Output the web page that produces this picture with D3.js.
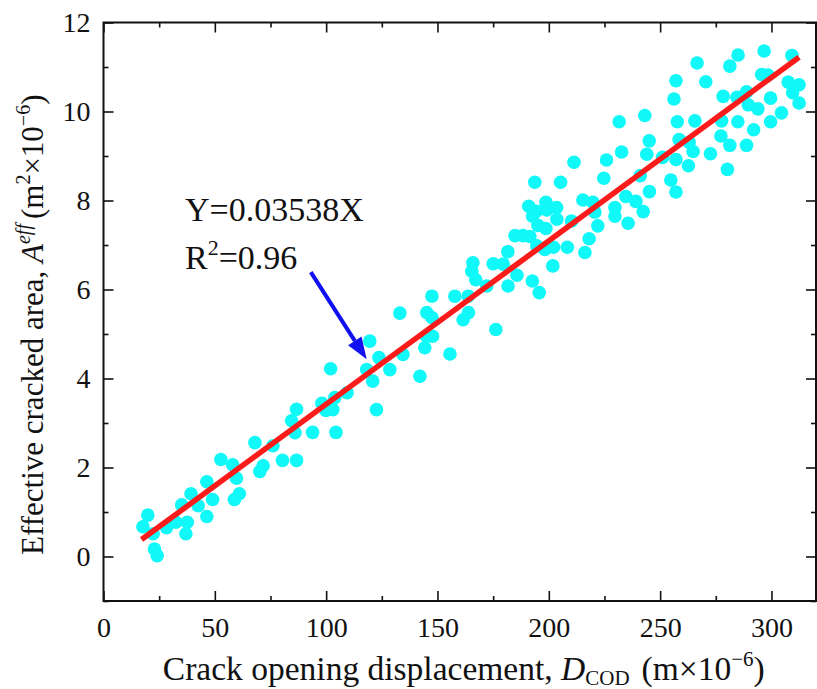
<!DOCTYPE html>
<html lang="en">
<head>
<meta charset="UTF-8">
<title>Effective cracked area vs crack opening displacement</title>
<script src="https://d3js.org/d3.v7.min.js"></script>
<style>
  body { margin: 0; background: #fff; }
  svg { display: block; font-family: "Liberation Serif", "Times New Roman", serif; }
</style>
</head>
<body>
<svg width="817" height="689"></svg>
<script>
// crack opening displacement D_COD (m x 1e-6)
const codX = [
  17.7, 19.9, 22.3, 22.9, 24.1, 28.3, 32.5, 35.1, 37.6, 37.0,
  39.3, 42.5, 46.4, 49.0, 46.4, 52.7, 58.0, 59.7, 61.0, 58.8,
  68.0, 76.1, 71.7, 70.2, 80.4, 86.7, 84.5, 86.7, 86.0, 93.9,
  98.1, 99.9, 103.0, 103.9, 104.4, 109.4, 102.0, 122.6, 119.6, 118.2,
  120.9, 123.7, 128.6, 134.5, 133.1, 142.1, 144.3, 145.0, 147.8, 145.2,
  147.5, 147.5, 155.6, 157.8, 161.5, 163.9, 163.8, 176.2, 172.1, 165.9,
  165.4, 167.2, 175.0, 179.5, 181.6, 181.7, 185.7, 192.6, 195.7, 201.8,
  184.8, 188.4, 191.5, 191.0, 192.7, 194.4, 195.1, 198.7, 199.1, 203.5,
  203.6, 198.7, 193.7, 205.3, 194.6, 198.2, 202.1, 208.3, 210.2, 218.1,
  216.2, 215.3, 219.8, 220.7, 222.0, 211.3, 225.9, 224.7, 232.7, 229.7,
  229.7, 234.6, 235.6, 239.1, 242.4, 241.1, 245.2, 244.0, 245.1, 251.1,
  257.1, 254.8, 257.1, 231.6, 243.1, 257.7, 258.5, 256.2, 257.1, 266.6,
  270.5, 265.6, 263.0, 264.8, 262.7, 272.6, 277.6, 277.3, 281.3, 280.2,
  278.3, 281.3, 285.0, 284.9, 288.8, 292.0, 284.5, 288.8, 289.6, 293.9,
  295.6, 298.4, 299.6, 299.6, 304.5, 296.7, 309.2, 307.5, 312.4, 309.5,
  312.4
];
// effective cracked area A_eff (m^2 x 1e-6)
const areaY = [
  0.67, 0.93, 0.51, 0.17, 0.02, 0.65, 0.77, 1.16, 0.77, 0.51,
  1.41, 1.14, 1.68, 1.28, 0.90, 2.18, 2.06, 1.76, 1.41, 1.28,
  2.56, 2.49, 2.04, 1.91, 2.16, 2.16, 3.05, 3.31, 2.78, 2.79,
  3.44, 3.28, 3.30, 3.57, 2.79, 3.68, 4.22, 3.30, 4.84, 4.20,
  3.94, 4.47, 4.20, 4.54, 5.47, 4.05, 4.69, 4.95, 4.95, 5.48,
  5.37, 5.85, 4.55, 5.85, 5.32, 5.48, 5.85, 5.10, 6.08, 6.60,
  6.41, 6.22, 6.58, 6.57, 6.85, 6.08, 6.32, 6.19, 5.93, 6.53,
  7.21, 7.21, 7.19, 7.87, 7.65, 7.76, 7.44, 7.96, 7.79, 7.84,
  7.58, 7.37, 8.41, 8.41, 6.98, 6.90, 6.95, 6.95, 7.54, 7.14,
  6.83, 8.01, 7.96, 7.74, 7.43, 8.86, 8.91, 8.50, 9.09, 7.84,
  7.65, 8.09, 7.49, 7.98, 7.75, 8.56, 8.20, 9.04, 9.34, 8.97,
  8.92, 8.46, 8.19, 9.77, 9.91, 9.77, 9.37, 10.28, 10.69, 11.09,
  10.67, 9.79, 9.31, 9.10, 8.78, 9.05, 9.79, 9.45, 9.24, 8.70,
  10.34, 11.02, 11.27, 9.77, 9.24, 9.59, 10.32, 10.44, 10.15, 10.06,
  10.83, 10.82, 10.30, 9.77, 9.97, 11.36, 11.26, 10.66, 10.60, 10.42,
  10.19
];

// fitted line as drawn, end points
const fitX = [17.1, 312.4];
const fitY = [0.38, 11.22];

const xTicks = [0, 50, 100, 150, 200, 250, 300];
const xMinor = [25, 75, 125, 175, 225, 275];
const yTicks = [0, 2, 4, 6, 8, 10, 12];
const yMinor = [-1, 1, 3, 5, 7, 9, 11];

// annotation text and arrow (data units)
const eqLines = ["Y=0.03538X", "R²=0.96"];
const eqPos = [36.6, 7.53];
const arrowFrom = [93.1, 6.39];
const arrowTo = [118.2, 4.43];

const width = 817, height = 689;
const margin = { left: 103.5, right: 1, top: 22.5, bottom: 88 };

const svg = d3.select("svg");

const x = d3.scaleLinear().domain([0, 320]).range([margin.left, width - margin.right]);
const y = d3.scaleLinear().domain([-1, 12]).range([height - margin.bottom, margin.top]);

const x0 = x.range()[0], x1 = x.range()[1];
const y0 = y.range()[0], y1 = y.range()[1];

// points
svg.append("g")
  .selectAll("circle")
  .data(codX.map((d, i) => [d, areaY[i]]))
  .join("circle")
  .attr("cx", d => x(d[0]))
  .attr("cy", d => y(d[1]))
  .attr("r", 6.8)
  .attr("fill", "#10f8f8");

// fit line
svg.append("line")
  .attr("x1", x(fitX[0])).attr("y1", y(fitY[0]))
  .attr("x2", x(fitX[1])).attr("y2", y(fitY[1]))
  .attr("stroke", "#fb1b1b")
  .attr("stroke-width", 5.5);

// axes, ticks pointing inward
function ticks(axis, values, size) {
  return axis.tickValues(values).tickSizeInner(-size).tickSizeOuter(0);
}

const gBottom = svg.append("g").attr("transform", `translate(0,${y0})`)
  .call(ticks(d3.axisBottom(x), xTicks, 10).tickPadding(8));
svg.append("g").attr("transform", `translate(0,${y0})`)
  .call(ticks(d3.axisBottom(x), xMinor, 5).tickFormat(""));
svg.append("g").attr("transform", `translate(0,${y1})`)
  .call(ticks(d3.axisTop(x), xTicks, 10).tickFormat(""));
svg.append("g").attr("transform", `translate(0,${y1})`)
  .call(ticks(d3.axisTop(x), xMinor, 5).tickFormat(""));

const gLeft = svg.append("g").attr("transform", `translate(${x0},0)`)
  .call(ticks(d3.axisLeft(y), yTicks, 10).tickPadding(13));
svg.append("g").attr("transform", `translate(${x0},0)`)
  .call(ticks(d3.axisLeft(y), yMinor, 5).tickFormat(""));
svg.append("g").attr("transform", `translate(${x1},0)`)
  .call(ticks(d3.axisRight(y), yTicks, 10).tickFormat(""));
svg.append("g").attr("transform", `translate(${x1},0)`)
  .call(ticks(d3.axisRight(y), yMinor, 5).tickFormat(""));

svg.selectAll(".domain").remove();
svg.selectAll(".tick line").attr("stroke", "#111").attr("stroke-width", 1.6);
svg.selectAll(".tick text")
  .attr("font-family", "Liberation Serif, Times New Roman, serif")
  .attr("font-size", 28)
  .attr("fill", "#111");
gBottom.selectAll(".tick text").attr("dy", null).attr("y", 36);

// frame
svg.append("rect")
  .attr("x", x0).attr("y", y1)
  .attr("width", x1 - x0).attr("height", y0 - y1)
  .attr("fill", "none")
  .attr("stroke", "#111")
  .attr("stroke-width", 2);

// axis titles
const xTitle = svg.append("text")
  .attr("x", (x0 + x1) / 2 + 4)
  .attr("y", 680)
  .attr("text-anchor", "middle")
  .attr("font-size", 33.5)
  .attr("fill", "#111");
xTitle.append("tspan").text("Crack opening displacement, ");
xTitle.append("tspan").attr("font-style", "italic").text("D");
xTitle.append("tspan").attr("font-size", 21).attr("dy", 5).text("COD");
xTitle.append("tspan").attr("dy", -5).attr("dx", 12).text("(m×10");
xTitle.append("tspan").attr("font-size", 21).attr("dy", -14).text("−6");
xTitle.append("tspan").attr("dy", 14).text(")");

const yTitle = svg.append("text")
  .attr("transform", `translate(43,${(y0 + y1) / 2 + 13}) rotate(-90)`)
  .attr("text-anchor", "middle")
  .attr("font-size", 31)
  .attr("fill", "#111");
yTitle.append("tspan").text("Effective cracked area, ");
yTitle.append("tspan").attr("font-style", "italic").text("A");
yTitle.append("tspan").attr("font-style", "italic").attr("font-size", 20).attr("dy", -13).text("eff");
yTitle.append("tspan").attr("dy", 13).attr("dx", 5).text("(m");
yTitle.append("tspan").attr("font-size", 20).attr("dy", -13).text("2");
yTitle.append("tspan").attr("dy", 13).text("×10");
yTitle.append("tspan").attr("font-size", 20).attr("dy", -13).text("−6");
yTitle.append("tspan").attr("dy", 13).text(")");

// equation
const eq = svg.append("g").attr("font-size", 34).attr("fill", "#111");
eq.append("text").attr("x", x(eqPos[0])).attr("y", y(eqPos[1])).text(eqLines[0]);
const r2 = eq.append("text").attr("x", x(eqPos[0])).attr("y", y(eqPos[1]) + 48);
r2.append("tspan").text("R");
r2.append("tspan").attr("font-size", 22).attr("dy", -14).text("2");
r2.append("tspan").attr("dy", 14).text("=0.96");

// arrow
const ax0 = x(arrowFrom[0]), ay0 = y(arrowFrom[1]);
const ax1 = x(arrowTo[0]), ay1 = y(arrowTo[1]);
const ang = Math.atan2(ay1 - ay0, ax1 - ax0);
const headLen = 22, headHalf = 8;
const bx = ax1 - headLen * Math.cos(ang), by = ay1 - headLen * Math.sin(ang);
svg.append("line")
  .attr("x1", ax0).attr("y1", ay0)
  .attr("x2", bx).attr("y2", by)
  .attr("stroke", "#1010f0")
  .attr("stroke-width", 4);
svg.append("path")
  .attr("d", d3.line()([
    [ax1, ay1],
    [bx - headHalf * Math.sin(ang), by + headHalf * Math.cos(ang)],
    [bx + headHalf * Math.sin(ang), by - headHalf * Math.cos(ang)]
  ]) + "Z")
  .attr("fill", "#1010f0");
</script>
</body>
</html>
